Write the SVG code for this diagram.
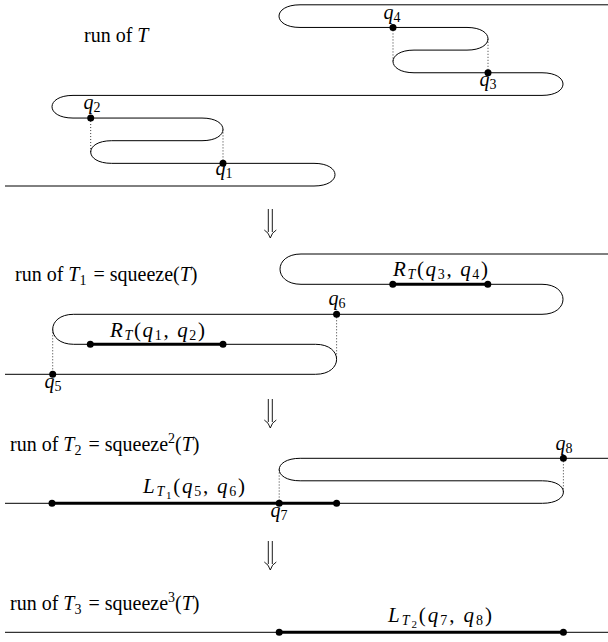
<svg xmlns="http://www.w3.org/2000/svg" xmlns:xlink="http://www.w3.org/1999/xlink" width="608" height="642" viewBox="0 0 608 642">
<style>
.ln{fill:none;stroke:#000;stroke-width:1}
.thick{fill:none;stroke:#000;stroke-width:3}
.dot{fill:#000}
.dt{fill:none;stroke:#000;stroke-width:0.8;stroke-dasharray:1 2}
.ar{fill:none;stroke:#000;stroke-width:0.9}
.t{font-family:"Liberation Serif","Times New Roman",serif;font-size:20px;fill:#000}
.m{font-size:21px}
.i{font-style:italic}
.s{font-size:14px}
.ss{font-size:11px}
</style>
<defs>
<g id="darr" class="ar"><path d="M -2,0 V 23 M 2,0 V 23"/><path d="M -6,21 Q -1.5,23.5 0,29 Q 1.5,23.5 6,21"/></g>
</defs>
<rect width="608" height="642" fill="#fff"/>

<g id="section1">
<g id="connectors1">
<path class="ln" d="M 5,186 H 314 C 342,186 342,163.35 314,163.35 H 111.7 C 83.7,163.35 83.7,140.7 111.7,140.7 H 202 C 230,140.7 230,118.05 202,118.05 H 73 C 45,118.05 45,95.4 73,95.4 H 542 C 570,95.4 570,72.75 542,72.75 H 414 C 386,72.75 386,50.1 414,50.1 H 467 C 495,50.1 495,27.45 467,27.45 H 300 C 272,27.45 272,4.8 300,4.8 H 608"/>
<path class="dt" d="M 90.7,118.05 V 152 M 223,129.4 V 163.35 M 393,27.45 V 61.4 M 488,38.8 V 72.75"/>
</g>
<text class="t" x="84" y="42">run of <tspan class="i">T</tspan></text>
<g id="q1"><circle class="dot" cx="223" cy="163.35" r="3.5"/><text class="t" x="224" y="175" text-anchor="middle"><tspan class="i">q</tspan><tspan class="s" dy="3">1</tspan></text></g>
<g id="q2"><circle class="dot" cx="90.7" cy="118.05" r="3.5"/><text class="t" x="92" y="109" text-anchor="middle"><tspan class="i">q</tspan><tspan class="s" dy="3">2</tspan></text></g>
<g id="q3"><circle class="dot" cx="488" cy="72.75" r="3.5"/><text class="t" x="488" y="86" text-anchor="middle"><tspan class="i">q</tspan><tspan class="s" dy="3">3</tspan></text></g>
<g id="q4"><circle class="dot" cx="393" cy="27.45" r="3.5"/><text class="t" x="392" y="19" text-anchor="middle"><tspan class="i">q</tspan><tspan class="s" dy="3">4</tspan></text></g>
</g>

<use xlink:href="#darr" href="#darr" transform="translate(270.3,209)"/>

<g id="section2">
<g id="connectors2">
<path class="ln" d="M 5,374.3 H 315.6 C 343.6,374.3 343.6,344.3 315.6,344.3 H 73.7 C 45.7,344.3 45.7,314.3 73.7,314.3 H 542 C 570,314.3 570,284.3 542,284.3 H 301 C 273,284.3 273,254 301,254 H 608"/>
<path class="thick" d="M 392.8,284.3 H 487.8 M 90.3,344.3 H 223"/>
<path class="dt" d="M 52.7,329.3 V 374.3 M 336.6,314.3 V 359.3"/>
</g>
<text class="t" x="15" y="281">run of <tspan class="i">T</tspan><tspan class="s" dy="4">1</tspan><tspan dy="-4" dx="2"> = squeeze(</tspan><tspan class="i">T</tspan>)</text>
<g id="r34"><circle class="dot" cx="392.8" cy="284.3" r="3.5"/><circle class="dot" cx="487.8" cy="284.3" r="3.5"/>
<text class="t m" x="393" y="276" textLength="95" lengthAdjust="spacing"><tspan class="i">R</tspan><tspan class="s i" dy="3">T</tspan><tspan dy="-3">(</tspan><tspan class="i">q</tspan><tspan class="s" dy="3">3</tspan><tspan dy="-3">, </tspan><tspan class="i">q</tspan><tspan class="s" dy="3">4</tspan><tspan dy="-3">)</tspan></text></g>
<g id="r12"><circle class="dot" cx="90.3" cy="344.3" r="3.5"/><circle class="dot" cx="223" cy="344.3" r="3.5"/>
<text class="t m" x="110" y="337" textLength="95" lengthAdjust="spacing"><tspan class="i">R</tspan><tspan class="s i" dy="3">T</tspan><tspan dy="-3">(</tspan><tspan class="i">q</tspan><tspan class="s" dy="3">1</tspan><tspan dy="-3">, </tspan><tspan class="i">q</tspan><tspan class="s" dy="3">2</tspan><tspan dy="-3">)</tspan></text></g>
<g id="q5"><circle class="dot" cx="52.7" cy="374.3" r="3.5"/><text class="t" x="53" y="388" text-anchor="middle"><tspan class="i">q</tspan><tspan class="s" dy="3">5</tspan></text></g>
<g id="q6"><circle class="dot" cx="336.6" cy="314.3" r="3.5"/><text class="t" x="337" y="305" text-anchor="middle"><tspan class="i">q</tspan><tspan class="s" dy="3">6</tspan></text></g>
</g>

<use xlink:href="#darr" href="#darr" transform="translate(270.3,399)"/>

<g id="section3">
<g id="connectors3">
<path class="ln" d="M 5,503.3 H 542.4 C 570.4,503.3 570.4,480.8 542.4,480.8 H 300.2 C 272.2,480.8 272.2,458.3 300.2,458.3 H 608"/>
<path class="thick" d="M 52,503.3 H 336.6"/>
<path class="dt" d="M 279.2,469.5 V 503.3 M 563.4,458.3 V 492"/>
</g>
<text class="t" x="10" y="451">run of <tspan class="i">T</tspan><tspan class="s" dy="4">2</tspan><tspan dy="-4" dx="2"> = squeeze</tspan><tspan class="s" dy="-8">2</tspan><tspan dy="8">(</tspan><tspan class="i">T</tspan>)</text>
<g id="l56"><circle class="dot" cx="52" cy="503.3" r="3.5"/><circle class="dot" cx="336.6" cy="503.3" r="3.5"/>
<text class="t m" x="143" y="493" textLength="102" lengthAdjust="spacing"><tspan class="i">L</tspan><tspan class="s i" dy="3">T</tspan><tspan class="ss" dy="3">1</tspan><tspan dy="-6">(</tspan><tspan class="i">q</tspan><tspan class="s" dy="3">5</tspan><tspan dy="-3">, </tspan><tspan class="i">q</tspan><tspan class="s" dy="3">6</tspan><tspan dy="-3">)</tspan></text></g>
<g id="q7"><circle class="dot" cx="279.2" cy="503.3" r="3.5"/><text class="t" x="279" y="517" text-anchor="middle"><tspan class="i">q</tspan><tspan class="s" dy="3">7</tspan></text></g>
<g id="q8"><circle class="dot" cx="563.4" cy="458.3" r="3.5"/><text class="t" x="564" y="450" text-anchor="middle"><tspan class="i">q</tspan><tspan class="s" dy="3">8</tspan></text></g>
</g>

<use xlink:href="#darr" href="#darr" transform="translate(270.3,541)"/>

<g id="section4">
<g id="connectors4">
<path class="ln" d="M 5,632.3 H 608"/>
<path class="thick" d="M 279.2,632.3 H 563.4"/>
</g>
<text class="t" x="10" y="610">run of <tspan class="i">T</tspan><tspan class="s" dy="4">3</tspan><tspan dy="-4" dx="2"> = squeeze</tspan><tspan class="s" dy="-8">3</tspan><tspan dy="8">(</tspan><tspan class="i">T</tspan>)</text>
<g id="l78"><circle class="dot" cx="279.2" cy="632.3" r="3.5"/><circle class="dot" cx="563.4" cy="632.3" r="3.5"/>
<text class="t m" x="388" y="622" textLength="104" lengthAdjust="spacing"><tspan class="i">L</tspan><tspan class="s i" dy="3">T</tspan><tspan class="ss" dy="3">2</tspan><tspan dy="-6">(</tspan><tspan class="i">q</tspan><tspan class="s" dy="3">7</tspan><tspan dy="-3">, </tspan><tspan class="i">q</tspan><tspan class="s" dy="3">8</tspan><tspan dy="-3">)</tspan></text></g>
</g>
</svg>
